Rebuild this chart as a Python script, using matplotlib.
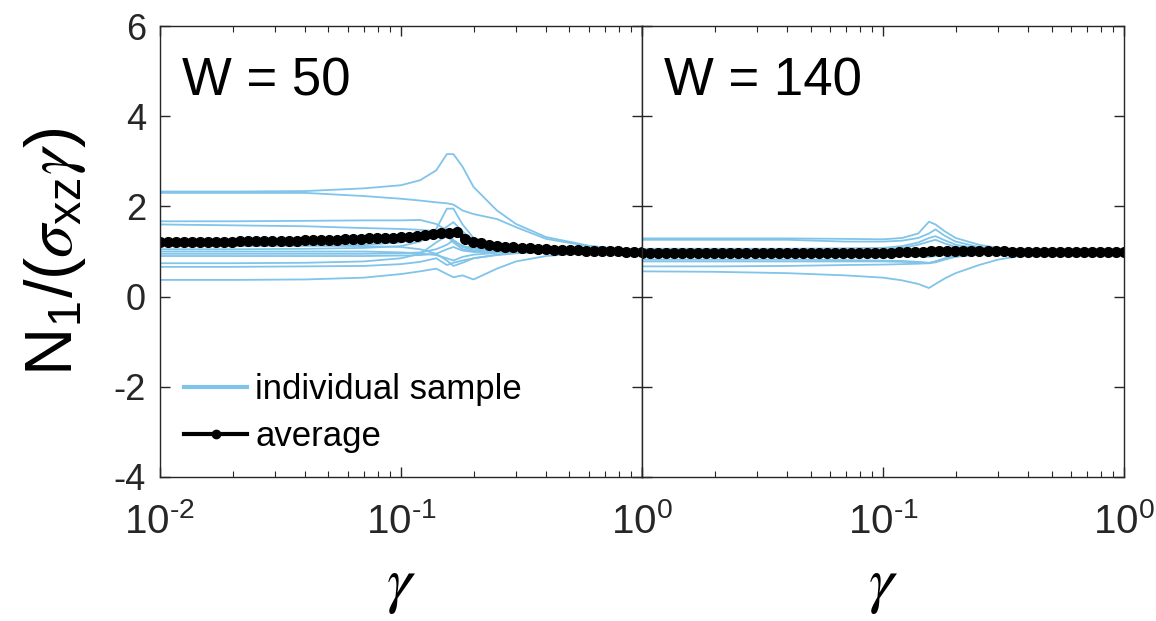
import matplotlib
import numpy as np

matplotlib.use("Agg")
import matplotlib.pyplot as plt  # noqa: E402
from matplotlib.lines import Line2D  # noqa: E402
from matplotlib.ticker import LogLocator, NullFormatter  # noqa: E402

plt.rcParams["font.family"] = ["Liberation Sans", "DejaVu Sans"]
plt.rcParams["mathtext.fontset"] = "custom"
plt.rcParams["mathtext.rm"] = "Liberation Sans"
plt.rcParams["mathtext.sf"] = "Liberation Sans"
plt.rcParams["mathtext.it"] = "STIXGeneral:italic"

BLUE = "#80c4e9"
AXC = "#262626"

gamma_s = [0.01, 0.02, 0.04, 0.07, 0.1, 0.12, 0.14, 0.155, 0.165, 0.18, 0.2, 0.25, 0.3, 0.4, 0.6, 1.0]

# W = 50, individual samples
samples_50 = [
    [2.33, 2.33, 2.34, 2.40, 2.47, 2.58, 2.80, 3.16, 3.16, 2.88, 2.43, 1.91, 1.61, 1.32, 1.13, 1.00],
    [2.30, 2.30, 2.30, 2.23, 2.17, 2.13, 2.09, 2.07, 2.04, 1.91, 1.83, 1.72, 1.54, 1.28, 1.12, 1.00],
    [1.67, 1.67, 1.68, 1.69, 1.69, 1.70, 1.61, 1.47, 1.25, 1.12, 1.06, 1.03, 1.02, 1.01, 1.00, 1.00],
    [1.60, 1.58, 1.56, 1.52, 1.50, 1.48, 1.45, 1.40, 1.22, 1.12, 1.08, 1.04, 1.02, 1.01, 1.00, 1.00],
    [1.12, 1.12, 1.13, 1.15, 1.20, 1.30, 1.50, 1.95, 1.95, 1.60, 1.30, 1.15, 1.08, 1.03, 1.01, 1.00],
    [1.05, 1.05, 1.06, 1.08, 1.12, 1.22, 1.40, 1.55, 1.65, 1.45, 1.22, 1.10, 1.05, 1.02, 1.00, 1.00],
    [0.74, 0.74, 0.75, 0.78, 0.85, 0.95, 1.20, 1.35, 1.20, 1.05, 1.00, 0.99, 0.99, 1.00, 1.00, 1.00],
    [0.66, 0.66, 0.67, 0.68, 0.72, 0.77, 0.85, 0.70, 0.75, 0.80, 0.85, 0.92, 0.96, 0.99, 1.00, 1.00],
    [0.37, 0.37, 0.38, 0.42, 0.50, 0.56, 0.62, 0.50, 0.43, 0.47, 0.38, 0.62, 0.78, 0.90, 0.97, 1.00],
    [1.13, 1.13, 1.13, 1.12, 1.10, 1.05, 0.95, 0.80, 0.68, 0.75, 0.85, 0.93, 0.97, 0.99, 1.00, 1.00],
    [1.00, 1.00, 1.00, 1.00, 0.98, 0.96, 0.92, 0.85, 0.80, 0.88, 0.93, 0.97, 0.99, 1.00, 1.00, 1.00],
    [0.95, 0.95, 0.95, 0.95, 0.96, 0.98, 1.05, 1.15, 1.25, 1.10, 1.02, 1.00, 1.00, 1.00, 1.00, 1.00],
    [0.90, 0.90, 0.90, 0.90, 0.91, 0.92, 0.95, 1.05, 1.10, 1.02, 0.99, 0.99, 1.00, 1.00, 1.00, 1.00],
]

# W = 140, individual samples
samples_140 = [
    [1.29, 1.29, 1.29, 1.28, 1.27, 1.30, 1.40, 1.66, 1.60, 1.45, 1.30, 1.15, 1.08, 1.03, 1.01, 1.00],
    [1.26, 1.26, 1.26, 1.22, 1.22, 1.24, 1.30, 1.40, 1.49, 1.35, 1.22, 1.10, 1.05, 1.02, 1.00, 1.00],
    [1.06, 1.06, 1.06, 1.07, 1.08, 1.12, 1.20, 1.30, 1.34, 1.25, 1.15, 1.07, 1.03, 1.01, 1.00, 1.00],
    [1.04, 1.04, 1.04, 1.04, 1.05, 1.08, 1.15, 1.22, 1.26, 1.18, 1.10, 1.05, 1.02, 1.01, 1.00, 1.00],
    [0.82, 0.82, 0.82, 0.81, 0.80, 0.79, 0.77, 0.75, 0.78, 0.85, 0.90, 0.95, 0.98, 0.99, 1.00, 1.00],
    [0.78, 0.78, 0.78, 0.78, 0.78, 0.77, 0.76, 0.74, 0.76, 0.82, 0.88, 0.94, 0.97, 0.99, 1.00, 1.00],
    [0.67, 0.67, 0.68, 0.70, 0.71, 0.72, 0.73, 0.74, 0.78, 0.84, 0.89, 0.94, 0.97, 0.99, 1.00, 1.00],
    [0.56, 0.55, 0.52, 0.47, 0.42, 0.36, 0.28, 0.19, 0.28, 0.40, 0.52, 0.70, 0.82, 0.93, 0.98, 1.00],
    [0.98, 0.98, 0.98, 0.98, 0.99, 1.00, 1.02, 1.06, 1.08, 1.05, 1.02, 1.01, 1.00, 1.00, 1.00, 1.00],
    [0.93, 0.93, 0.93, 0.93, 0.93, 0.92, 0.90, 0.88, 0.90, 0.94, 0.97, 0.99, 1.00, 1.00, 1.00, 1.00],
]

# average curves, sampled every 1/30 decade from 1e-2 to 1e0
gamma_avg = np.logspace(-2, 0, 61)
avg_50 = [1.22, 1.22, 1.22, 1.22, 1.22, 1.22, 1.22, 1.22, 1.22, 1.22,
          1.23, 1.23, 1.23, 1.23, 1.23, 1.24, 1.24, 1.24, 1.25, 1.25,
          1.25, 1.26, 1.26, 1.27, 1.28, 1.28, 1.29, 1.30, 1.30, 1.31,
          1.32, 1.33, 1.34, 1.36, 1.38, 1.40, 1.41, 1.43, 1.28, 1.22,
          1.18, 1.15, 1.13, 1.11, 1.10, 1.08, 1.07, 1.06, 1.05, 1.04,
          1.04, 1.03, 1.03, 1.02, 1.02, 1.01, 1.01, 1.01, 1.00, 1.00, 1.00]
avg_140 = [0.96, 0.96, 0.96, 0.96, 0.96, 0.96, 0.96, 0.96, 0.96, 0.96,
           0.96, 0.96, 0.96, 0.96, 0.96, 0.96, 0.96, 0.96, 0.96, 0.96,
           0.96, 0.96, 0.96, 0.96, 0.96, 0.96, 0.96, 0.97, 0.97, 0.97,
           0.97, 0.97, 0.98, 0.98, 0.99, 1.00, 1.02, 1.02, 1.02, 1.01,
           1.01, 1.01, 1.01, 1.01, 1.01, 1.01, 1.00, 1.00, 1.00, 1.00,
           1.00, 1.00, 1.00, 1.00, 1.00, 1.00, 1.00, 1.00, 1.00, 1.00, 1.00]

panels = [("W = 50", samples_50, avg_50), ("W = 140", samples_140, avg_140)]
xtick_vals = [1e-2, 1e-1, 1e0]
xtick_labels = [[r"$\mathrm{10}^{\text{-2}}$", r"$\mathrm{10}^{\text{-1}}$", r"$\mathrm{10}^{\mathrm{0}}$"],
                ["", r"$\mathrm{10}^{\text{-1}}$", r"$\mathrm{10}^{\mathrm{0}}$"]]
yticks = [-4, -2, 0, 2, 4, 6]

fig = plt.figure(figsize=(11.56, 6.21), dpi=100)
axes = [fig.add_axes([0.1384, 0.2319, 0.4170, 0.7262]),
        fig.add_axes([0.5554, 0.2319, 0.4170, 0.7262])]

for i, (ax, (title, samples, avg)) in enumerate(zip(axes, panels)):
    for s in samples:
        ax.plot(gamma_s, s, color=BLUE, lw=1.3)
    ax.plot(gamma_avg, avg, color="black", lw=4, marker="o", ms=7)
    ax.set_xscale("log")
    ax.set_xlim(1e-2, 1)
    ax.set_ylim(-4, 6)
    ax.set_xticks(xtick_vals)
    ax.set_xticklabels(xtick_labels[i])
    ax.xaxis.set_minor_locator(LogLocator(base=10, subs=np.arange(2, 10)))
    ax.xaxis.set_minor_formatter(NullFormatter())
    ax.set_yticks(yticks)
    if i == 0:
        ax.set_yticklabels([str(v) for v in yticks])
    else:
        ax.set_yticklabels([])
    ax.tick_params(which="both", direction="in", top=True, right=True, colors=AXC)
    ax.tick_params(which="major", length=7, width=1.0)
    ax.tick_params(which="minor", length=4, width=0.8)
    ax.tick_params(axis="x", which="major", labelsize=29, pad=19)
    ax.tick_params(axis="y", which="major", labelsize=26, pad=10)
    for sp in ax.spines.values():
        sp.set_color(AXC)
        sp.set_linewidth(1.0)
    ax.text(0.045, 0.845, title, transform=ax.transAxes, fontsize=38, color="black")
    ax.set_xlabel(r"$\gamma$", fontsize=46)
    ax.xaxis.set_label_coords(0.5, -0.175)

axes[0].set_ylabel(r"$\mathrm{N}_{\mathrm{1}}/(\sigma_{\mathrm{xz}}\gamma)$", fontsize=48)
axes[0].yaxis.set_label_coords(-0.15, 0.5)

handles = [Line2D([], [], color=BLUE, lw=3),
           Line2D([], [], color="black", lw=3, marker="o", ms=6)]
axes[0].legend(handles, ["individual sample", "average"], loc="lower left",
               bbox_to_anchor=(0.0, 0.0), frameon=False, fontsize=25,
               handlelength=1.8, handletextpad=0.25, labelspacing=0.4, borderaxespad=0.3)

fig.savefig("out.png", dpi=100)
